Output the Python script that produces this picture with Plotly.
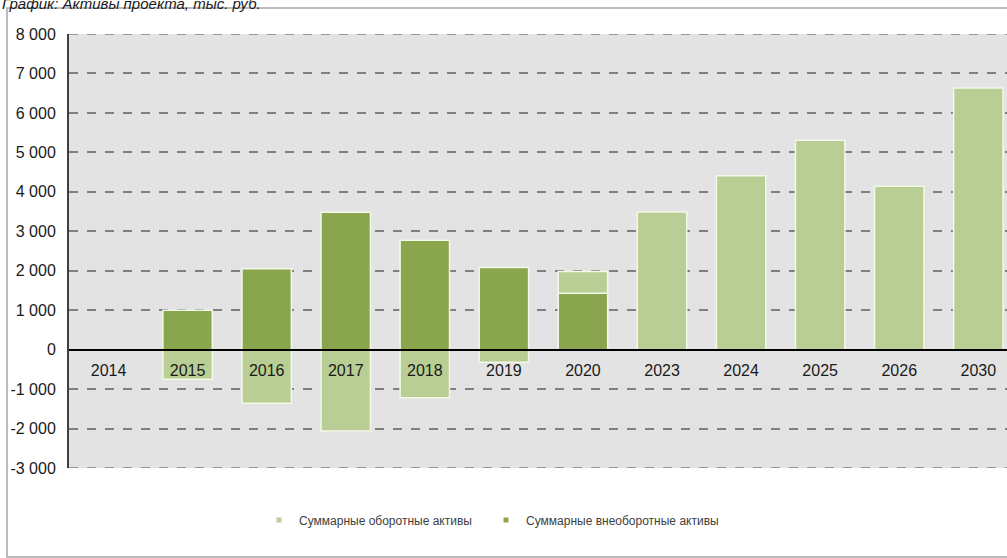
import plotly.graph_objects as go

# ---- data (thousand rubles) ----
years = ['2014', '2015', '2016', '2017', '2018', '2019', '2020',
         '2023', '2024', '2025', '2026', '2030']
noncurrent = [None, 1000, 2050, 3480, 2770, 2080, 1430,
              None, None, None, None, None]          # Суммарные внеоборотные активы
current = [None, -750, -1360, -2060, -1220, -320, 550,
           3490, 4410, 5310, 4140, 6630]             # Суммарные оборотные активы
y_ticks = list(range(-3000, 8001, 1000))
y_min, y_max = -3000, 8000

name_current = 'Суммарные оборотные активы'
name_noncurrent = 'Суммарные внеоборотные активы'
title_text = 'График: Активы проекта, тыс. руб.'

dark = '#89A54E'
light = '#B9CE94'
edge = '#F3F8E8'
grid = '#7F7F7F'
FONT = 'Arial, Liberation Sans, sans-serif'


def fmt(v):
    s = f'{abs(v):,}'.replace(',', ' ')
    return ('-' if v < 0 else '') + s


fig = go.Figure()
fig.add_trace(go.Bar(x=years, y=noncurrent, name=name_noncurrent,
                     marker=dict(color=dark, line=dict(color=edge, width=1.5)),
                     showlegend=False))
fig.add_trace(go.Bar(x=years, y=current, name=name_current,
                     marker=dict(color=light, line=dict(color=edge, width=1.5)),
                     showlegend=False))
# legend entries (small square symbols like the original)
fig.add_trace(go.Scatter(x=[None], y=[None], mode='markers', name=name_current,
                         marker=dict(symbol='square', size=5, color=light),
                         legend='legend'))
fig.add_trace(go.Scatter(x=[None], y=[None], mode='markers', name=name_noncurrent,
                         marker=dict(symbol='square', size=5, color=dark),
                         legend='legend2'))

W, H = 1007, 558
ml, mt, mb = 69, 34, 90
plot_w = W - ml
plot_h = H - mt - mb
band = 79.07
n_vis = plot_w / band

leg_common = dict(orientation='h', xanchor='left',
                  y=(mt + plot_h - 520) / plot_h, yanchor='middle',
                  font=dict(size=12, color='#404040', family=FONT),
                  itemwidth=30, bgcolor='rgba(0,0,0,0)')

fig.update_layout(
    width=W, height=H,
    margin=dict(l=ml, r=0, t=mt, b=mb, pad=0),
    paper_bgcolor='white', plot_bgcolor='#E3E3E3',
    barmode='relative', bargap=0.375,
    font=dict(family=FONT, size=16, color='#1a1a1a'),
    showlegend=True,
    legend=dict(x=(259 - ml) / plot_w, **leg_common),
    legend2=dict(x=(486 - ml) / plot_w, **leg_common),
    xaxis=dict(type='category', categoryorder='array', categoryarray=years,
               range=[-0.5, -0.5 + n_vis],
               anchor='free', position=(0 - y_min) / (y_max - y_min),
               showline=True, linecolor='black', linewidth=1.5,
               showgrid=False, zeroline=False,
               ticks='outside', ticklen=6, tickcolor='rgba(0,0,0,0)',
               tickfont=dict(size=16, color='#1a1a1a')),
    yaxis=dict(range=[y_min, y_max], tickvals=y_ticks,
               ticktext=[fmt(v) for v in y_ticks],
               showline=True, linecolor='#404040', linewidth=2,
               showgrid=True, gridcolor=grid, gridwidth=1.5, griddash='dash',
               zeroline=False,
               ticks='outside', ticklen=8, tickcolor='rgba(0,0,0,0)',
               tickfont=dict(size=16, color='#1a1a1a')),
)

# dashed gridlines on the plot's top and bottom edges
for yv in (y_min, y_max):
    fig.add_shape(type='line', xref='paper', yref='y', x0=0, x1=1, y0=yv, y1=yv,
                  line=dict(color=grid, width=1.5, dash='dash'), layer='below')

# outer frame of the chart picture
fig.add_shape(type='rect', xref='paper', yref='paper',
              x0=(7 - ml) / plot_w, x1=1.05,
              y0=(mt + plot_h - 557) / plot_h, y1=1 + (mt - 8) / plot_h,
              line=dict(color='#A6A6A6', width=1.5), fillcolor='rgba(0,0,0,0)',
              layer='below')

# title (partly cut off at the top, as in the original)
fig.add_annotation(text=title_text, xref='paper', yref='paper',
                   x=(0 - ml) / plot_w, xanchor='left',
                   y=1 + (mt - 14) / plot_h, yanchor='bottom',
                   showarrow=False,
                   font=dict(size=15, family=FONT, color='#1a1a1a', style='italic'))

fig.write_html('out.html',
               config={'displayModeBar': False},
               post_script="document.body.style.margin='0';"
                           "document.body.style.overflow='hidden';")
